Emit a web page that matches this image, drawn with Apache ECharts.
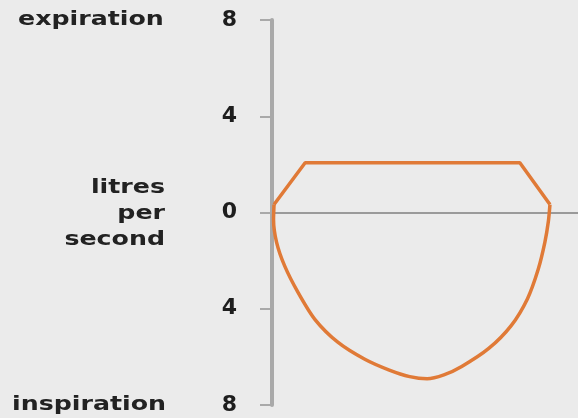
<!DOCTYPE html>
<html>
<head>
<meta charset="utf-8">
<script src="https://cdn.jsdelivr.net/npm/echarts@6/dist/echarts.min.js"></script>
<style>
  html, body { margin: 0; padding: 0; background: #ebebeb; }
  #chart { width: 578px; height: 418px; }
</style>
</head>
<body>
<div id="chart"></div>
<script>
// Flow (litres per second) vs volume (litres)
const yTicks = [-8, -4, 0, 4, 8];
const expirationVolume = [0.04, 0.65, 4.86, 5.45];
const expirationFlow   = [0.33, 2.07, 2.07, 0.33];
const inspirationVolume = [5.45, 5.42, 5.35, 5.22, 5.01, 4.69, 4.25, 3.72, 3.37, 3.04, 2.70, 2.30, 1.82, 1.29, 0.84, 0.51, 0.25, 0.09, 0.03, 0.04];
const inspirationFlow   = [0.33, -0.35, -1.24, -2.36, -3.58, -4.70, -5.65, -6.40, -6.75, -6.91, -6.82, -6.55, -6.10, -5.39, -4.44, -3.32, -2.23, -1.24, -0.29, 0.33];

const orange = '#e07a37';
const chart = echarts.init(document.getElementById('chart'));
const pair = (xs, ys) => xs.map((x, i) => [x, ys[i]]);
const textFont = 'bold 19px "DejaVu Sans"';

chart.setOption({
  backgroundColor: '#ebebeb',
  animation: false,
  grid: { left: 272, right: 0, top: 20, bottom: 13 },
  xAxis: {
    type: 'value', min: 0, max: 6,
    axisLine: { show: true, onZero: true, lineStyle: { color: '#9a9a9a', width: 2 } },
    axisTick: { show: false },
    axisLabel: { show: false },
    splitLine: { show: false }
  },
  yAxis: {
    type: 'value', min: yTicks[0], max: yTicks[yTicks.length - 1], interval: 4,
    axisLine: { show: true, lineStyle: { color: '#a9a9a9', width: 4 } },
    axisTick: { show: true, length: 12, lineStyle: { color: '#a9a9a9', width: 2 } },
    axisLabel: {
      margin: 35, color: '#1e1e1e', fontSize: 22, fontWeight: 'bold', fontFamily: 'DejaVu Sans',
      formatter: v => String(Math.abs(v))
    },
    splitLine: { show: false }
  },
  graphic: [
    { type: 'text', x: 18, y: 20, scaleX: 1.33,
      style: { text: 'expiration', fill: '#222', font: textFont, textAlign: 'left', textVerticalAlign: 'middle' } },
    { type: 'text', x: 12, y: 405, scaleX: 1.33,
      style: { text: 'inspiration', fill: '#222', font: textFont, textAlign: 'left', textVerticalAlign: 'middle' } },
    { type: 'text', x: 165, y: 214, scaleX: 1.33,
      style: { text: 'litres\nper\nsecond', fill: '#222', font: textFont, lineHeight: 26, textAlign: 'right', textVerticalAlign: 'middle' } }
  ],
  series: [
    {
      type: 'line', data: pair(expirationVolume, expirationFlow),
      showSymbol: false, smooth: false, z: 5,
      lineStyle: { color: orange, width: 3.5 }
    },
    {
      type: 'line', data: pair(inspirationVolume, inspirationFlow),
      showSymbol: false, smooth: 0.25, z: 5,
      lineStyle: { color: orange, width: 3.5 }
    }
  ]
});
</script>
</body>
</html>
